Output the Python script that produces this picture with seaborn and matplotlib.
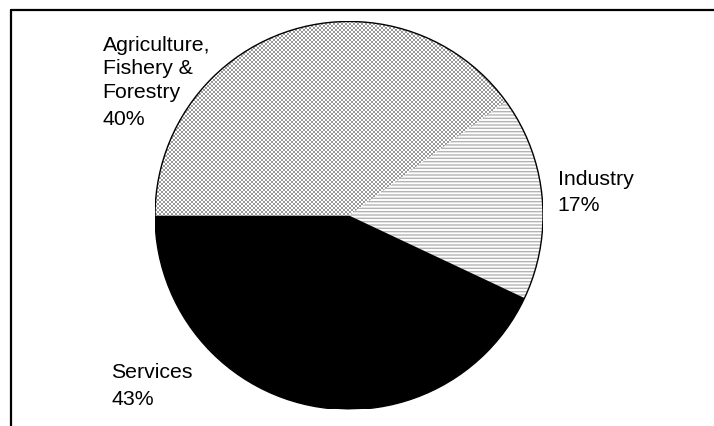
import numpy as np
import matplotlib
matplotlib.use("Agg")
import matplotlib.pyplot as plt
from matplotlib.lines import Line2D
from matplotlib.patches import Circle
import seaborn as sns

sns.set_theme(style="white")
plt.rcParams["font.family"] = ["Liberation Sans", "DejaVu Sans"]
plt.rcParams["hatch.linewidth"] = 1.0

# Share of GDP by sector
sectors = ["Agriculture,\nFishery &\nForestry", "Industry", "Services"]
shares = [40, 17, 43]
name_pos = [(-1.27, 0.932), (1.075, 0.24), (-1.225, -0.755)]
share_pos = [(-1.27, 0.47), (1.075, 0.03), (-1.225, -0.972)]

fig = plt.figure(figsize=(7.14, 4.27), dpi=100)
ax = fig.add_axes([0.4888 - 0.2717, 0.4930 - 0.4543, 0.5434, 0.9087])

wedges, _ = ax.pie(shares, startangle=180, counterclock=False,
                   wedgeprops=dict(linewidth=0))
agri, ind, serv = wedges

# Agriculture: fine grey checkerboard fill
agri.set_facecolor("white")
n = 194
yy, xx = np.mgrid[0:n, 0:n]
checker = ((xx + yy) % 2).astype(float)
im = ax.imshow(checker, extent=[-1, 1, -1, 1], cmap="gray", vmin=-1.5, vmax=1.0,
               interpolation="nearest", zorder=1.5)
im.set_clip_path(agri)

# Industry: thin horizontal grey lines
ind.set_facecolor("white")
ind.set_edgecolor("#b4b4b4")
ind.set_hatch("-----")
ind.set_linewidth(0)

# Services: solid black
serv.set_facecolor("black")

ax.add_patch(Circle((0, 0), 1.0, fill=False, edgecolor="black", linewidth=1.0, zorder=3))

for name, share, (nx, ny), (sx, sy) in zip(sectors, shares, name_pos, share_pos):
    ax.text(nx, ny, name, ha="left", va="top", fontsize=15.3,
            color="black", linespacing=1.3)
    ax.text(sx, sy, f"{share}%", ha="left", va="baseline", fontsize=15.3,
            color="black")

ax.set_xlim(-1, 1)
ax.set_ylim(-1, 1)
ax.set_aspect("equal")
ax.axis("off")

# Outer frame: top and left rules
fig.add_artist(Line2D([11 / 714, 1.0], [1 - 10.5 / 427] * 2, color="black", linewidth=1.6))
fig.add_artist(Line2D([11 / 714] * 2, [0.0, 1 - 10.5 / 427], color="black", linewidth=1.6))

fig.savefig("out.png", dpi=100)
